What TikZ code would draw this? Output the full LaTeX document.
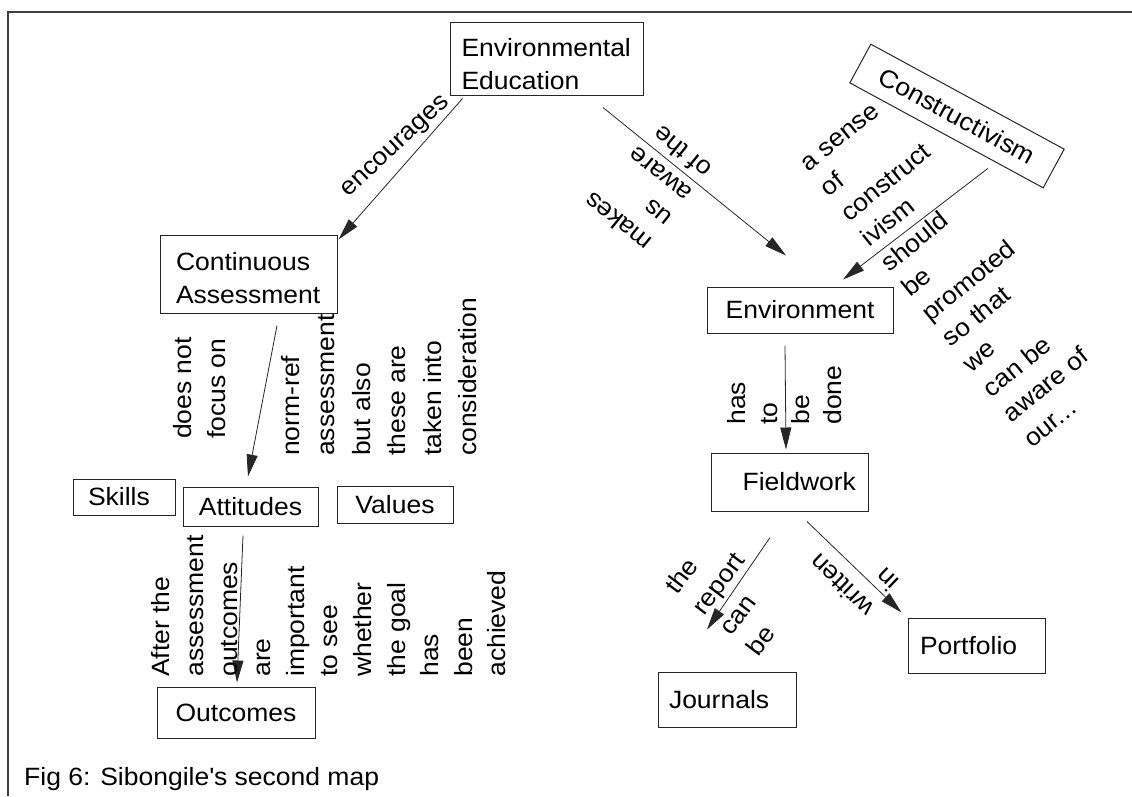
\documentclass[tikz,border=0pt]{standalone}
\usepackage{fontspec}
\setmainfont{Liberation Sans}[FakeStretch=1.06]
\usetikzlibrary{arrows.meta}
\begin{document}
\begin{tikzpicture}[x=1pt,y=-1pt,
  every node/.style={font=\fontsize{25}{33}\selectfont},
  box/.style={draw=black!85, line width=1pt, inner ysep=0pt},
  lab/.style={inner sep=0pt, align=left},
  link/.style={draw=black!85, line width=0.8pt, -{Triangle[length=22pt,width=11pt]}},
]
\useasboundingbox (0,0) rectangle (1132,796);
% page frame
\draw[line width=1.1pt, black!75] (1132,12) -- (8,12) -- (8,796);

% concepts (a tall strut in the first line drops two-line texts a little)
\node[box, minimum height=73pt, text width=170pt, inner xsep=11.5pt, align=left] (ee) at (546.5,58.5) {\rule{0pt}{30pt}Environmental\\Education};
\node[box, minimum width=220pt, minimum height=44pt, rotate=-28.5] (con) at (957,116) {Constructivism};
\node[box, minimum height=78pt, text width=145pt, inner xsep=16pt, align=left] (ca) at (248.5,274) {\rule{0pt}{26pt}Continuous\\Assessment};
\node[box, minimum width=186pt, minimum height=46pt] (env) at (800,310) {Environment};
\node[box, minimum height=58pt, text width=133pt, inner xsep=12pt, align=right] (fw) at (789.5,482) {Fieldwork};
\node[box, minimum height=55pt, text width=113pt, inner xsep=12pt, align=left] (pf) at (976.5,645.5) {Portfolio};
\node[box, minimum height=55pt, text width=116pt, inner xsep=11pt, align=left] (jn) at (727,699.5) {Journals};
\node[box, minimum height=36pt, text width=72pt, inner xsep=15pt, align=left] (sk) at (124,497) {Skills};
\node[box, minimum width=135pt, minimum height=39pt] (att) at (250.5,506.5) {Attitudes};
\node[box, minimum width=116pt, minimum height=37pt] (val) at (395,504.5) {Values};
\node[box, minimum width=158pt, minimum height=51pt] (out) at (236,712.5) {Outcomes};

% links
\draw[link] ([xshift=13pt,yshift=-3pt]ee.south west) -- ([xshift=1pt,yshift=-5pt]ca.north east);
\draw[link] ([xshift=56.5pt,yshift=-12pt]ee.south) -- ([xshift=-14pt,yshift=31pt]env.north);
\draw[link] ([xshift=41.5pt,yshift=-32.7pt]con.south) -- ([xshift=43pt,yshift=7pt]env.north);
\draw[link] ([xshift=28.5pt,yshift=-12pt]ca.south) -- ([xshift=-2.5pt,yshift=10pt]att.north);
\draw[link] ([xshift=-7.5pt,yshift=-9pt]att.south) -- ([xshift=1pt,yshift=4pt]out.north);
\draw[link] ([xshift=-15pt,yshift=-12pt]env.south) -- ([xshift=-3.5pt,yshift=3pt]fw.north);
\draw[link] ([xshift=-19.5pt,yshift=-26pt]fw.south) -- ([xshift=-20pt,yshift=42pt]jn.north);
\draw[link] ([xshift=17.5pt,yshift=-10pt]fw.south) -- ([xshift=-6pt,yshift=5pt]pf.north west);

% link phrases
\node[lab, rotate=43] (l1) at (396.5,147.5) {encourages};
\node[lab, rotate=141, font=\fontsize{25}{31.5}\selectfont] (l2) at (647.6,185.5) {makes\\us\\aware\\of the};
\node[lab, rotate=39, font=\fontsize{25}{32.3}\selectfont] (l3) at (959.6,269.9)
  {a sense\\of\\construct\\ivism\\should\\be\\promoted\\so that\\we\\can be\\aware of\\our...};
\node[lab, rotate=90, font=\fontsize{25}{34}\selectfont] (l4) at (200,388) {does not\\focus on};
\node[lab, rotate=90, font=\fontsize{25}{35.5}\selectfont] (l5) at (379,377)
  {norm-ref\\assessment\\but also\\these are\\taken into\\consideration};
\node[lab, rotate=90, font=\fontsize{25}{33.6}\selectfont] (l6) at (329,606)
  {After the\\assessment\\outcomes\\are\\important\\to see\\whether\\the goal\\has\\been\\achieved};
\node[lab, rotate=90, font=\fontsize{25}{32}\selectfont] (l7) at (785,395) {has\\to\\be\\done};
\node[lab, rotate=53, font=\fontsize{25}{33.9}\selectfont] (l8) at (731.5,593.4) {the\\report\\can\\be};
\node[lab, rotate=136, font=\fontsize{25}{36}\selectfont] (l9) at (853.8,572.8) {written\\in};

% caption
\node[inner sep=0pt, anchor=base west] (cap) at (24,785) {Fig 6: Sibongile\textquotesingle s second map};
\end{tikzpicture}
\end{document}
